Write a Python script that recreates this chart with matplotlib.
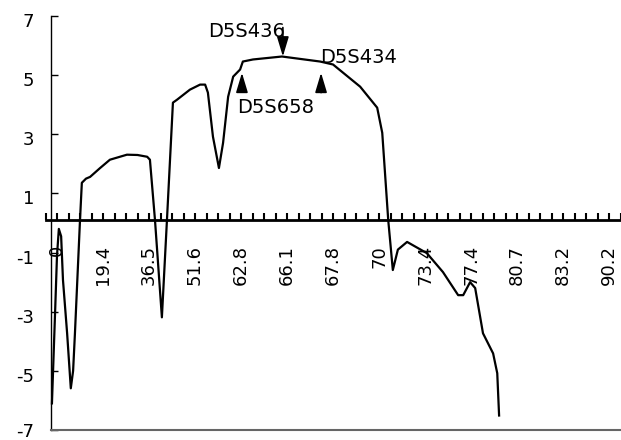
import matplotlib
matplotlib.use("Agg")
import matplotlib.pyplot as plt
from matplotlib.transforms import ScaledTranslation


# map positions (the labels sit at equal steps along the axis)
tick_labels = ["0", "19.4", "36.5", "51.6", "62.8", "66.1", "67.8",
               "70", "73.4", "77.4", "80.7", "83.2", "90.2"]

# curve, x in label steps, y = score
curve_x = [-0.11, -0.04, 0.00, 0.04, 0.09, 0.13, 0.22, 0.30, 0.35, 0.39,
           0.50, 0.54, 0.63, 0.72, 0.93, 1.15, 1.52, 1.75, 1.96, 2.02,
           2.13, 2.28, 2.39, 2.52, 2.61, 2.89, 3.11, 3.22, 3.28, 3.39,
           3.52, 3.61, 3.72, 3.83, 3.98, 4.04, 4.26, 4.89, 5.72, 6.00,
           6.59, 6.96, 7.07, 7.13, 7.20, 7.30, 7.41, 7.61, 8.04, 8.39,
           8.72, 8.83, 8.98, 9.09, 9.26, 9.48, 9.57, 9.61]
curve_y = [-6.10, -2.95, -1.10, -0.20, -0.45, -1.93, -3.73, -5.59, -5.00, -3.73,
           0.10, 1.36, 1.50, 1.56, 1.85, 2.14, 2.31, 2.30, 2.24, 2.14,
           0.10, -3.19, 0.10, 4.07, 4.17, 4.51, 4.68, 4.68, 4.41, 2.92,
           1.86, 2.71, 4.27, 4.95, 5.19, 5.46, 5.53, 5.63, 5.46, 5.36,
           4.61, 3.90, 3.05, 1.69, 0.10, -1.59, -0.90, -0.64, -1.02, -1.66,
           -2.44, -2.44, -2.00, -2.20, -3.73, -4.41, -5.08, -6.51]

# markers
marker_names = ["D5S436", "D5S658", "D5S434"]
marker_x = [4.91, 4.02, 5.74]
marker_tip = [5.63, 5.08, 5.08]
marker_tail = [6.61, 4.51, 4.41]
marker_text_x = [3.28, 3.91, 5.72]
marker_text_y = [6.47, 3.90, 5.59]


def make_graph():
    fig = plt.figure(figsize=(6.21, 4.4), dpi=100)
    ax = fig.add_axes([45.5 / 621, 10 / 440, 575.5 / 621, 414 / 440])

    ax.set_xlim(-0.25, 12.26)
    ax.set_ylim(-7, 7)

    ax.plot(curve_x, curve_y, color="black", linewidth=1.6, zorder=3)

    for i in range(len(marker_names)):
        ax.annotate(
            "",
            xy=(marker_x[i], marker_tip[i]),
            xytext=(marker_x[i], marker_tail[i]),
            arrowprops=dict(arrowstyle="-|>,head_length=1.2,head_width=0.36",
                            color="black", lw=1.2, shrinkA=0, shrinkB=0,
                            mutation_scale=10),
            zorder=4
        )
        ax.text(marker_text_x[i], marker_text_y[i], marker_names[i],
                fontsize=14, ha="left", va="center")

    # axes lines
    ax.spines["right"].set_visible(False)
    ax.spines["left"].set_position(("data", -0.13))
    ax.spines["left"].set_linewidth(1.0)
    ax.spines["bottom"].set_position(("data", 0.1))
    ax.spines["bottom"].set_linewidth(2.0)
    ax.spines["top"].set_position(("data", -7))
    ax.spines["top"].set_bounds(-0.13, 12.26)
    ax.spines["top"].set_color("0.4")
    ax.spines["top"].set_linewidth(1.5)

    ax.set_yticks([7, 5, 3, 1, -1, -3, -5, -7])
    ax.set_yticklabels(["7", "5", "3", "1", "-1", "-3", "-5", "-7"])
    ax.tick_params(axis="y", direction="in", length=5, width=1,
                   pad=12, labelsize=13)
    shift = ScaledTranslation(0, -0.04, fig.dpi_scale_trans)
    for label in ax.get_yticklabels()[:-1]:
        label.set_transform(label.get_transform() + shift)

    ax.set_xticks(range(len(tick_labels)))
    ax.set_xticklabels(tick_labels, rotation=90, va="top", ha="center")
    minor = [i * 0.25 - 0.25 for i in range(51)]
    ax.set_xticks(minor, minor=True)
    ax.tick_params(axis="x", which="both", direction="in", length=5,
                   width=1.5, pad=18, labelsize=13)

    fig.savefig("out.png", dpi=100)


def main():
    make_graph()


if __name__ == "__main__":
    main()
